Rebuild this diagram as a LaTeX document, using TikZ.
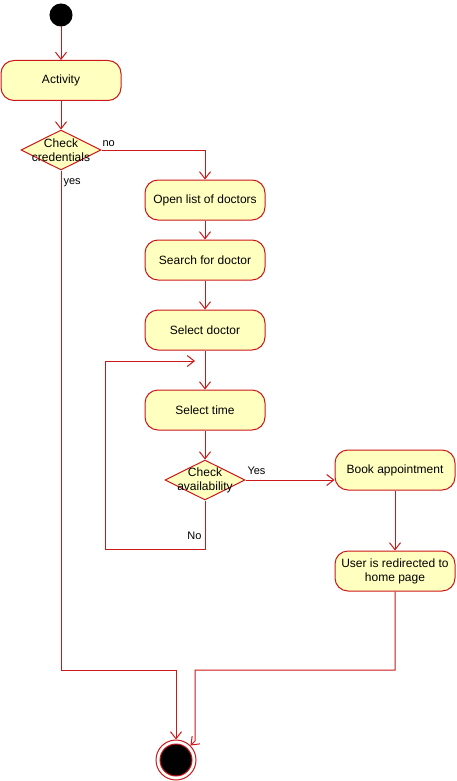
\documentclass[tikz,border=0pt]{standalone}
\usepackage{fontspec}
\setmainfont{Liberation Sans}
\usetikzlibrary{arrows.meta,shapes.geometric}
\definecolor{umlred}{RGB}{204,24,24}
\definecolor{umlfill}{RGB}{255,255,192}
\begin{document}
\begin{tikzpicture}[x=1pt, y=-1pt, line width=1pt,
    activity/.style={draw=umlred, fill=umlfill, rounded corners=13pt,
        minimum width=120pt, minimum height=40pt, inner sep=0pt,
        align=center, font=\fontsize{12}{14}\selectfont},
    decision/.style={draw=umlred, fill=umlfill, diamond, inner sep=0pt,
        minimum width=80pt, minimum height=40pt},
    dtext/.style={align=center, font=\fontsize{12}{14}\selectfont},
    lbl/.style={inner sep=1pt, font=\fontsize{11}{13}\selectfont},
    flow/.style={draw=umlred, -{Straight Barb[length=7pt,width=11pt]}}]
        \useasboundingbox (0, 0) rectangle (456, 781);

        % Start
        \node[circle, fill=black, draw=black, minimum size=22pt, inner sep=0pt] (start) at (61, 15) {};
        \node[activity] (act) at (61, 80.5) {Activity};
        \node[decision] (chk) at (61, 150) {};
        \node[dtext] at (chk) {Check\\credentials};

        % Booking steps
        \node[activity] (open) at (205, 200) {Open list of doctors};
        \node[activity] (search) at (205, 260) {Search for doctor};
        \node[activity] (seldoc) at (205, 330) {Select doctor};
        \node[activity] (seltime) at (205, 410) {Select time};
        \node[decision] (avail) at (205, 480) {};
        \node[dtext] at (avail) {Check\\availability};
        \node[activity] (book) at (395, 470) {Book appointment};
        \node[activity] (home) at (395, 571) {User is redirected to\\home page};

        % End
        \node[circle, draw=umlred, fill=white, minimum size=40pt, inner sep=0pt,
            path picture={\fill[black, draw=umlred] (path picture bounding box.center) circle (16pt);}] (stop) at (176, 760) {};

        % Bend points
        \coordinate (yesjoin) at (176, 670);
        \coordinate (homejoin) at (195, 670);
        \coordinate (homedrop) at (195, 741);
        \coordinate (loopcorner) at (105, 549);
        \coordinate (loopend) at (195, 361);

        % Connections
        \draw[flow] (start) -- (act);
        \draw[flow] (act) -- (chk);
        \draw[flow] (chk.east) -| (open.north);
        \node[lbl, anchor=south west] (nolbl) at (101, 148) {no};
        \draw[flow] (chk.south) |- (yesjoin) -- (stop);
        \node[lbl, anchor=west] (yeslbl) at (62, 183) {yes};

        \draw[flow] (open) -- (search);
        \draw[flow] (search) -- (seldoc);
        \draw[flow] (seldoc) -- (seltime);
        \draw[flow] (seltime) -- (avail);

        \draw[flow] (avail.south) |- (loopcorner) |- (loopend);
        \node[lbl, anchor=east] (nolbl2) at (203, 536) {No};
        \draw[flow] (avail.east) -- (avail.east -| book.west);
        \node[lbl, anchor=south west] (yeslbl2) at (246, 476) {Yes};

        \draw[flow] (book) -- (home);
        \draw[flow] (home.south) |- (homejoin) -- (homedrop) -- (stop);
    \end{tikzpicture}
\end{document}
